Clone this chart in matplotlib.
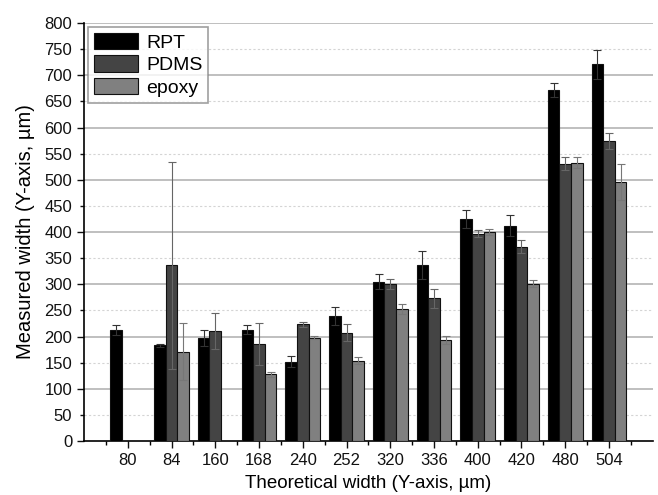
import numpy as np
import matplotlib
matplotlib.use("Agg")
import matplotlib.pyplot as plt

# =========================
# DATA
# =========================
categories = ["80", "84", "160", "168", "240", "252", "320", "336", "400", "420", "480", "504"]

rpt = [212, 183, 197, 213, 152, 239, 305, 337, 425, 412, 672, 721]
rpt_err = [10, 3, 15, 9, 10, 17, 15, 27, 18, 20, 14, 28]

pdms = [np.nan, 336, 211, 186, 223, 207, 300, 273, 397, 372, 531, 574]
pdms_err = [0, 198, 34, 40, 4, 16, 10, 18, 6, 13, 12, 16]

epoxy = [np.nan, 171, np.nan, 128, 198, 154, 253, 193, 400, 301, 533, 496]
epoxy_err = [0, 54, 0, 5, 3, 7, 10, 8, 5, 7, 11, 34]

series = [
    ("RPT", rpt, rpt_err, "#000000", "#333333"),
    ("PDMS", pdms, pdms_err, "#444444", "#666666"),
    ("epoxy", epoxy, epoxy_err, "#808080", "#777777"),
]

# =========================
# PLOT
# =========================
plt.rcParams["font.family"] = ["Liberation Sans", "DejaVu Sans"]

fig = plt.figure(figsize=(6.58, 4.95), dpi=100)
ax = fig.add_axes([0.1277, 0.1091, 0.8643, 0.8444])

x = np.arange(1, len(categories) + 1)
w = 0.265

for i, (name, vals, errs, color, ecol) in enumerate(series):
    ax.bar(x + (i - 1) * w, vals, width=w, color=color, edgecolor="#111111",
           linewidth=0.8, label=name, zorder=3,
           yerr=errs, error_kw=dict(ecolor=ecol, elinewidth=0.8, capsize=3,
                                    capthick=0.8, zorder=4))

ax.set_xlim(0, 13)
ax.set_ylim(0, 800)

ax.set_yticks(np.arange(0, 801, 50))
ax.set_xticks(x)
ax.set_xticklabels(categories)
ax.set_xticks(np.arange(0.5, 13, 1), minor=True)

ax.tick_params(axis="both", which="major", labelsize=12, direction="out",
               length=5, width=1, colors="#111111")
ax.tick_params(axis="x", which="minor", direction="out", length=3, width=1)

# gridlines: solid every 100, dashed every 50
for v in range(100, 801, 100):
    ax.axhline(v, color="#b4b4b4", linewidth=1.2, zorder=0)
for v in range(50, 800, 100):
    ax.axhline(v, color="#d4d4d4", linewidth=0.8, linestyle=(0, (2, 2)), zorder=0)

# short ticks at the 50 marks
for t, lab in zip(ax.yaxis.get_major_ticks(), ax.get_yticks()):
    if lab % 100 != 0:
        t.tick1line.set_markersize(3)

ax.spines["top"].set_visible(False)
ax.spines["right"].set_visible(False)
ax.spines["left"].set_linewidth(1.2)
ax.spines["bottom"].set_linewidth(1.2)

ax.set_xlabel("Theoretical width (Y-axis, µm)", fontsize=13.5, labelpad=5)
ax.set_ylabel("Measured width (Y-axis, µm)", fontsize=14.5, labelpad=7)

leg = ax.legend(loc="upper left", fontsize=14, frameon=True, fancybox=False,
                borderpad=0.3, handlelength=2.3, handleheight=0.9,
                handletextpad=0.4, labelspacing=0.2, borderaxespad=0.2)
leg.get_frame().set_edgecolor("#888888")
leg.get_frame().set_linewidth(1.2)

fig.savefig("out.png", dpi=100)
